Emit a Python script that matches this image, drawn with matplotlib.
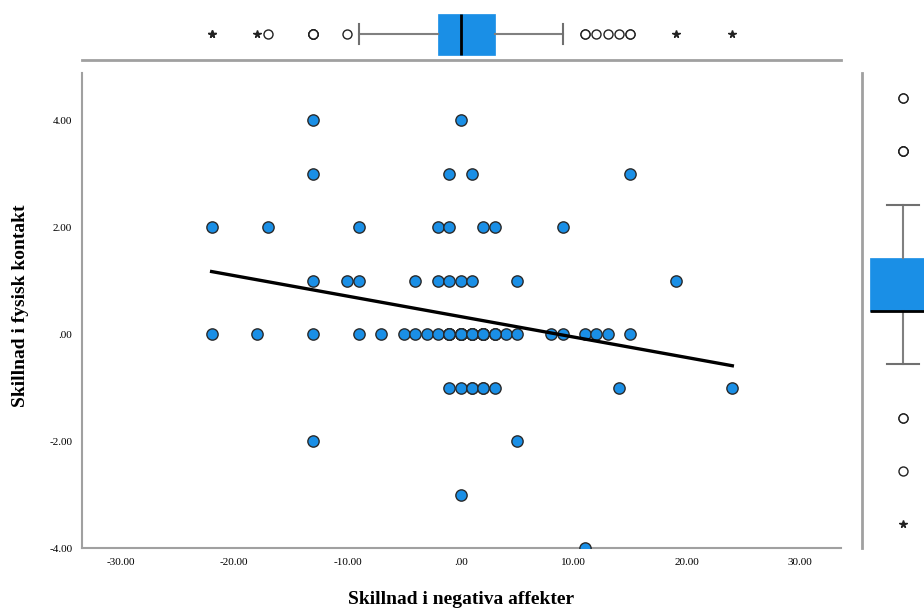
import matplotlib
matplotlib.use("Agg")
import matplotlib.pyplot as plt
from matplotlib import cbook
from matplotlib.ticker import FuncFormatter
import numpy as np

plt.rcParams["font.family"] = ["Liberation Serif", "DejaVu Serif"]

# x = Skillnad i negativa affekter, y = Skillnad i fysisk kontakt (visible points, row by row)
x_vals = [
    -13, 0,
    -13, -1, 1, 15,
    -22, -17, -9, -2, -1, 2, 3, 9,
    -13, -10, -9, -4, -2, -1, 0, 1, 5, 19,
    -22, -18, -13, -9, -7, -5, -4, -3, -2, -1, 0, 1, 2, 3, 4, 5, 8, 9, 11, 12, 13, 15,
    -1, 0, 1, 2, 3, 14, 24,
    -13, 5,
    0,
    11,
]
y_vals = [
    4, 4,
    3, 3, 3, 3,
    2, 2, 2, 2, 2, 2, 2, 2,
    1, 1, 1, 1, 1, 1, 1, 1, 1, 1,
    0, 0, 0, 0, 0, 0, 0, 0, 0, 0, 0, 0, 0, 0, 0, 0, 0, 0, 0, 0, 0, 0,
    -1, -1, -1, -1, -1, -1, -1,
    -2, -2,
    -3,
    -4,
]
# overlapping cases hidden under visible dots (implied by the boxplots and fit line)
x_hidden = [-1, -1, -1, -1, 0, 0, 0, 0, 0, 0, 1, 1, 1, 1, 2, 2, 2, 2, 2, 3, 3, 1, 2]
y_hidden = [0, 0, 0, 0, 0, 0, 0, 0, 0, 0, 0, 0, 0, 0, 0, 0, 0, 0, 0, 0, 0, -1, -1]

x_ticks = [-30, -20, -10, 0, 10, 20, 30]
y_ticks = [-4, -2, 0, 2, 4]

BLUE = "#1a8fe6"
GRAY = "#a0a0a0"

x_all = np.array(x_vals + x_hidden, dtype=float)
y_all = np.array(y_vals + y_hidden, dtype=float)


def spss_fmt(v, pos=None):
    s = f"{v:.2f}"
    if s.startswith("0."):
        s = s[1:]
    elif s.startswith("-0."):
        s = "-" + s[2:]
    return s


def draw_box(ax, data, pos, width, capw, orient):
    st = cbook.boxplot_stats(data, whis=1.5)[0]
    ax.bxp([st], positions=[pos], widths=width, capwidths=[capw],
           orientation=orient, showfliers=False, patch_artist=True,
           boxprops=dict(facecolor=BLUE, edgecolor=BLUE, linewidth=0.5),
           medianprops=dict(color="black", linewidth=2.0),
           whiskerprops=dict(color="#808080", linewidth=1.5),
           capprops=dict(color="#707070", linewidth=1.5))
    q1, q3 = st["q1"], st["q3"]
    iqr = q3 - q1
    fl = np.asarray(st["fliers"])
    extreme = (fl < q1 - 3 * iqr) | (fl > q3 + 3 * iqr)
    near = fl[~extreme]
    far = fl[extreme]
    if orient == "horizontal":
        ax.plot(near, np.full(len(near), pos), "o", ms=6.5, mfc="white",
                mec="#222222", mew=1.0, ls="none")
        ax.plot(far, np.full(len(far), pos), "*", ms=5.5, color="#222222", ls="none")
    else:
        ax.plot(np.full(len(near), pos), near, "o", ms=6.5, mfc="white",
                mec="#222222", mew=1.0, ls="none")
        ax.plot(np.full(len(far), pos), far, "*", ms=5.5, color="#222222", ls="none")


W, H = 924, 608
fig = plt.figure(figsize=(W / 100, H / 100), dpi=100)

# main scatter
ax = fig.add_axes([82 / W, (H - 548) / H, (841 - 82) / W, (548 - 73) / H])
ax.scatter(x_all, y_all, s=66, color=BLUE, edgecolor="#2a2a2a", linewidth=1.0, zorder=3)
slope, intercept = np.polyfit(x_all, y_all, 1)
xs = np.array([x_all.min(), x_all.max()])
ax.plot(xs, intercept + slope * xs, color="black", linewidth=2.4, zorder=4)

ax.set_xlim(-33.45, 33.6)
ax.set_ylim(-4, 4.88)
ax.set_xticks(x_ticks)
ax.set_yticks(y_ticks)
ax.xaxis.set_major_formatter(FuncFormatter(spss_fmt))
ax.yaxis.set_major_formatter(FuncFormatter(spss_fmt))
ax.tick_params(length=0, labelsize=8, pad=7)
for side in ["top", "right"]:
    ax.spines[side].set_visible(False)
for side in ["left", "bottom"]:
    ax.spines[side].set_color(GRAY)
    ax.spines[side].set_linewidth(1.5)
ax.set_xlabel("Skillnad i negativa affekter", fontsize=14, fontweight="bold")
ax.set_ylabel("Skillnad i fysisk kontakt", fontsize=14, fontweight="bold")
ax.xaxis.set_label_coords(0.5, -0.09)
ax.yaxis.set_label_coords(-0.07, 0.51)

# top boxplot (x variable)
axt = fig.add_axes([82 / W, (H - 60) / H, (841 - 82) / W, 60 / H])
draw_box(axt, x_all, 26, 41, 20, "horizontal")
axt.set_xlim(ax.get_xlim())
axt.set_ylim(0, 60)
axt.set_xticks([])
axt.set_yticks([])
for side in ["top", "left", "right"]:
    axt.spines[side].set_visible(False)
axt.spines["bottom"].set_color(GRAY)
axt.spines["bottom"].set_linewidth(2)

# right boxplot (y variable)
axr = fig.add_axes([862 / W, (H - 548) / H, 80 / W, (548 - 73) / H])
draw_box(axr, y_all, 41, 66, 32, "vertical")
axr.set_xlim(0, 80)
axr.set_ylim(-4.45, 4.47)
axr.set_xticks([])
axr.set_yticks([])
for side in ["top", "bottom", "right"]:
    axr.spines[side].set_visible(False)
axr.spines["left"].set_color(GRAY)
axr.spines["left"].set_linewidth(2)

fig.savefig("out.png", dpi=100)
